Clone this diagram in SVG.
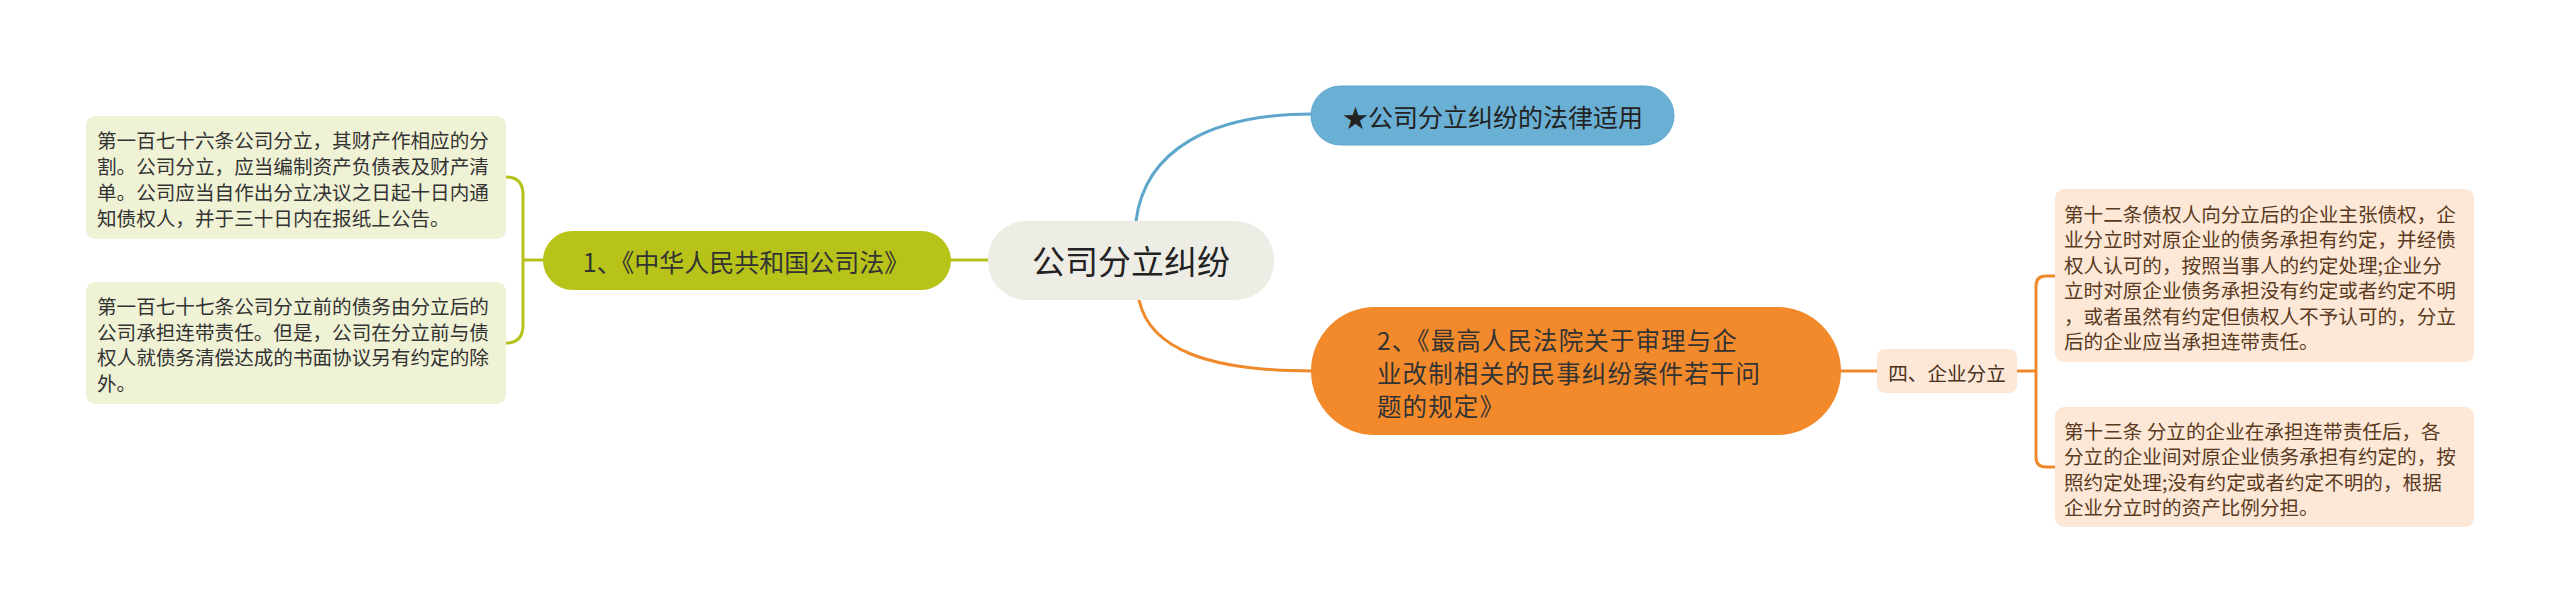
<svg xmlns="http://www.w3.org/2000/svg" width="2560" height="614" viewBox="0 0 2560 614">
<style>
text{font-family:"Noto Sans CJK SC","Noto Sans",sans-serif;dominant-baseline:central}
.leaf{font-size:19.6px;fill:#333333}
.leafr{font-size:19.6px;fill:#5a3a20}
.c{fill:none;stroke-width:3;stroke-linecap:round}
</style>
<rect width="2560" height="614" fill="#ffffff"/>
<g id="connectors">
<path class="c" stroke="#5ea6cc" d="M1136,221 C1145,150 1210,114 1313,114"/>
<path class="c" stroke="#ef8a2c" d="M1139,300 C1150,350 1210,371 1313,371"/>
<path class="c" stroke="#b6c21c" d="M951,260 L988,260"/>
<path class="c" stroke="#b6c21c" d="M506,177 Q523,177 523,195 L523,325 Q523,343 506,343 M523,260 L543,260"/>
<path class="c" stroke="#ef8a2c" d="M1841,371 L1877,371"/>
<path class="c" stroke="#ef8a2c" d="M2017,371 L2036,371 M2055,276 L2046,276 Q2036,276 2036,286 L2036,457 Q2036,467 2046,467 L2055,467"/>
</g>
<g id="root">
<rect x="988" y="221" width="286" height="79" rx="38" fill="#eeede5"/>
<text x="1131" y="260" font-size="33" fill="#222222" text-anchor="middle">公司分立纠纷</text>
</g>
<g id="n-blue">
<rect x="1311" y="86" width="363" height="59" rx="29.5" fill="#6aafd4" stroke="#5ea6cc" stroke-width="1"/>
<text x="1493" y="116" font-size="25" fill="#222222" text-anchor="middle">★公司分立纠纷的法律适用</text>
</g>
<g id="n-olive">
<rect x="543" y="231" width="408" height="59" rx="29.5" fill="#b8c31a"/>
<text x="746" y="261" font-size="25" fill="#333333" text-anchor="middle">1、《中华人民共和国公司法》</text>
</g>
<g id="n-orange">
<rect x="1311" y="307" width="530" height="128" rx="64" fill="#f28a2c"/>
<text font-size="24.5" letter-spacing="1.1" fill="#333333"><tspan x="1377" y="339">2、《最高人民法院关于审理与企</tspan><tspan x="1377" y="372">业改制相关的民事纠纷案件若干问</tspan><tspan x="1377" y="405">题的规定》</tspan></text>
</g>
<g id="leaf-l1">
<rect x="86" y="116" width="420" height="123" rx="9" fill="#f0f2d6"/>
<text class="leaf"><tspan x="97" y="139">第一百七十六条公司分立，其财产作相应的分</tspan><tspan x="97" y="165">割。公司分立，应当编制资产负债表及财产清</tspan><tspan x="97" y="191">单。公司应当自作出分立决议之日起十日内通</tspan><tspan x="97" y="217">知债权人，并于三十日内在报纸上公告。</tspan></text>
</g>
<g id="leaf-l2">
<rect x="86" y="282" width="420" height="122" rx="9" fill="#f0f2d6"/>
<text class="leaf"><tspan x="97" y="305">第一百七十七条公司分立前的债务由分立后的</tspan><tspan x="97" y="331">公司承担连带责任。但是，公司在分立前与债</tspan><tspan x="97" y="356">权人就债务清偿达成的书面协议另有约定的除</tspan><tspan x="97" y="382">外。</tspan></text>
</g>
<g id="n-sub">
<rect x="1877" y="349" width="140" height="44" rx="8" fill="#fde8d8"/>
<text x="1947" y="372" font-size="19.6" fill="#4a3020" text-anchor="middle">四、企业分立</text>
</g>
<g id="leaf-r1">
<rect x="2055" y="189" width="419" height="173" rx="9" fill="#fde8d8"/>
<text class="leafr"><tspan x="2064" y="213">第十二条债权人向分立后的企业主张债权，企</tspan><tspan x="2064" y="238.4">业分立时对原企业的债务承担有约定，并经债</tspan><tspan x="2064" y="263.8">权人认可的，按照当事人的约定处理;企业分</tspan><tspan x="2064" y="289.2">立时对原企业债务承担没有约定或者约定不明</tspan><tspan x="2064" y="314.6">，或者虽然有约定但债权人不予认可的，分立</tspan><tspan x="2064" y="340">后的企业应当承担连带责任。</tspan></text>
</g>
<g id="leaf-r2">
<rect x="2055" y="407" width="419" height="120" rx="9" fill="#fde8d8"/>
<text class="leafr"><tspan x="2064" y="430">第十三条 分立的企业在承担连带责任后，各</tspan><tspan x="2064" y="455.4">分立的企业间对原企业债务承担有约定的，按</tspan><tspan x="2064" y="480.8">照约定处理;没有约定或者约定不明的，根据</tspan><tspan x="2064" y="506">企业分立时的资产比例分担。</tspan></text>
</g>
</svg>
